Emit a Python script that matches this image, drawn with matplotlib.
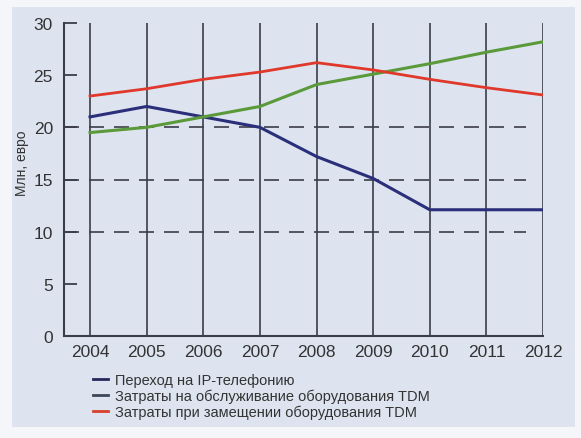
import matplotlib
matplotlib.use("Agg")
import matplotlib.pyplot as plt
from matplotlib.patches import Rectangle
from matplotlib.lines import Line2D

plt.rcParams['font.family'] = ['Liberation Sans', 'DejaVu Sans']

years = [2004, 2005, 2006, 2007, 2008, 2009, 2010, 2011, 2012]
ip_phone = [21, 22, 21, 20, 17.2, 15.1, 12.1, 12.1, 12.1]
tdm_service = [19.5, 20.0, 21.0, 22.0, 24.1, 25.1, 26.1, 27.2, 28.2]
tdm_replace = [23.0, 23.7, 24.6, 25.3, 26.2, 25.5, 24.6, 23.8, 23.1]
dashed_levels = [10, 15, 20]
y_ticks = [0, 5, 10, 15, 20, 25, 30]

labels = ['Переход на IP-телефонию',
          'Затраты на обслуживание оборудования TDM',
          'Затраты при замещении оборудования TDM']

bg = '#dde4f0'
ink = '#3b3e48'

fig = plt.figure(figsize=(5.81, 4.39), dpi=100, facecolor='#f4f6f9')
fig.patches.append(Rectangle((12 / 581, 11 / 439), 563 / 581, 420 / 439,
                             transform=fig.transFigure, facecolor=bg,
                             edgecolor='none', zorder=-5))

ax = fig.add_axes([64 / 581, 1 - 337 / 439, (543 - 64) / 581, (337 - 24) / 439])
ax.patch.set_alpha(0)

ax.set_xlim(2003.54, 2012)
ax.set_ylim(0, 30)

# vertical year lines across the whole plot
for yr in years:
    ax.axvline(yr, color=ink, lw=1.2, zorder=1)

# dashed reference levels
for lv in dashed_levels:
    ax.hlines(lv, 2003.54, 2011.7, color=ink, lw=1.2,
              linestyles=(0, (9, 6)), zorder=1)

ax.plot(years, ip_phone, color='#2b2f7a', lw=2.2, zorder=3)
ax.plot(years, tdm_service, color='#5a9a3a', lw=2.2, zorder=3)
ax.plot(years, tdm_replace, color='#e0382a', lw=2.0, zorder=3)

for side in ['top', 'right']:
    ax.spines[side].set_visible(False)
for side in ['left', 'bottom']:
    ax.spines[side].set_color(ink)
    ax.spines[side].set_linewidth(1.5)

ax.set_yticks(y_ticks)
ax.tick_params(axis='y', direction='in', length=9, width=1.3, color=ink,
               labelsize=12.5, labelcolor='#333', pad=8)
ax.set_xticks(years)
ax.tick_params(axis='x', length=0, labelsize=12.5, labelcolor='#333', pad=6)

fig.text(22 / 581, 1 - 163 / 439, 'Млн, евро', rotation=90, fontsize=10,
         color='#333', ha='center', va='center')

handles = [Line2D([], [], color='#25285e', lw=2),
           Line2D([], [], color='#3d4656', lw=2),
           Line2D([], [], color='#d8402e', lw=2)]
fig.legend(handles, labels, loc='upper left',
           bbox_to_anchor=(80 / 581, 1 - 361 / 439), frameon=False,
           fontsize=10.5, handlelength=1.0, handletextpad=0.5,
           labelspacing=0.12, labelcolor='#333')

fig.savefig('out.png', dpi=100, facecolor=fig.get_facecolor())
